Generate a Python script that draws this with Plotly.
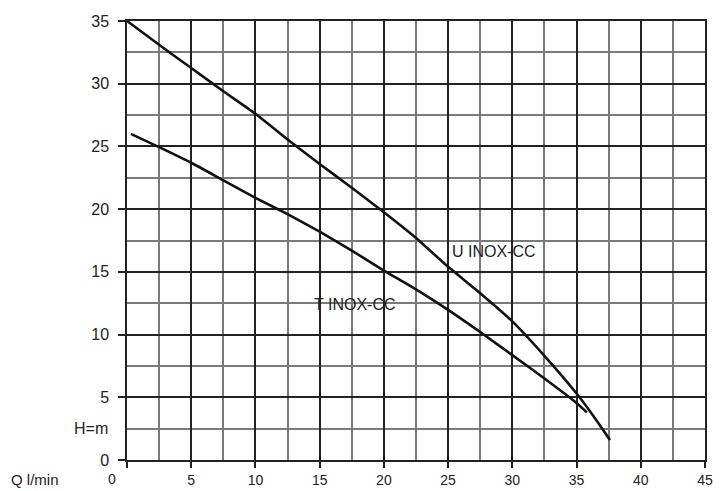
import plotly.graph_objects as go

# Pump curves: Q (l/min) vs H (m)
u_q = [0, 2.5, 5, 7.5, 10, 12.5, 15, 17.5, 20, 22.5, 25, 27.5, 30, 32.5, 35, 36.0, 37.0, 37.6]
u_h = [35, 33.1, 31.25, 29.4, 27.6, 25.55, 23.6, 21.7, 19.75, 17.7, 15.4, 13.3, 11.05, 8.3, 5.3, 3.95, 2.5, 1.6]

t_q = [0.3, 2.5, 5, 7.5, 10, 12.5, 15, 17.5, 20, 22.5, 25, 27.5, 30, 32.5, 35, 35.8]
t_h = [26, 24.95, 23.7, 22.3, 20.9, 19.6, 18.2, 16.7, 15.1, 13.6, 11.97, 10.2, 8.36, 6.5, 4.55, 3.8]

x_ticks = [0, 5, 10, 15, 20, 25, 30, 35, 40, 45]
x_ticktext = ["", "5", "10", "15", "20", "25", "30", "35", "40", "45"]
y_ticks = [0, 5, 10, 15, 20, 25, 30, 35]

curve_labels = ["U INOX-CC", "T INOX-CC"]
label_pos = [(28.6, 16.6), (17.75, 12.4)]

FONT = "Liberation Sans, Arial, sans-serif"
FS = 16
FSX = 14
TXT = "#222222"
MAJOR = "#222222"
MINOR = "#7a7a7a"

fig = go.Figure()
for qs, hs, nm in [(u_q, u_h, curve_labels[0]), (t_q, t_h, curve_labels[1])]:
    fig.add_trace(go.Scatter(x=qs, y=hs, mode="lines", name=nm, hoverinfo="skip",
                             line=dict(color="#111111", width=2.6, shape="spline", smoothing=0.5)))

for txt, (lx, ly) in zip(curve_labels, label_pos):
    fig.add_annotation(x=lx, y=ly, text=txt, showarrow=False, xref="x", yref="y",
                       font=dict(family=FONT, size=FS, color=TXT))

# outside-axis labels (paper coordinates)
fig.add_annotation(x=-0.0294, y=2.5 / 35, text="H=m", showarrow=False, xref="paper", yref="paper",
                   xanchor="right", yanchor="middle", font=dict(family=FONT, size=FS, color=TXT))
fig.add_annotation(x=-0.159, y=-0.044, text="Q l/min", showarrow=False, xref="paper", yref="paper",
                   xanchor="center", yanchor="middle", font=dict(family=FONT, size=15, color=TXT))
fig.add_annotation(x=-0.026, y=-0.044, text="0", showarrow=False, xref="paper", yref="paper",
                   xanchor="center", yanchor="middle", font=dict(family=FONT, size=FSX, color=TXT))

common = dict(showgrid=True, gridcolor=MAJOR, gridwidth=1.5,
              minor=dict(dtick=2.5, showgrid=True, gridcolor=MINOR, gridwidth=1.5),
              showline=True, linecolor=MAJOR, linewidth=1.5, mirror=True,
              ticks="outside", tickwidth=1.5, tickcolor=MAJOR,
              zeroline=False, fixedrange=True, automargin=False)
fig.update_xaxes(range=[0, 45], tickvals=x_ticks, ticktext=x_ticktext, ticklabelstandoff=0, ticklen=6,
                 tickfont=dict(family=FONT, size=FSX, color=TXT), **common)
fig.update_yaxes(range=[0, 35], tickvals=y_ticks, ticklabelstandoff=6, ticklen=7,
                 tickfont=dict(family=FONT, size=FS, color=TXT), **common)

fig.update_layout(width=723, height=491, margin=dict(l=127, r=18, t=21, b=31),
                  plot_bgcolor="white", paper_bgcolor="white", showlegend=False)

fig.write_html("out.html", config={"displayModeBar": False},
               post_script="document.body.style.margin='0';document.body.style.overflow='hidden';")
